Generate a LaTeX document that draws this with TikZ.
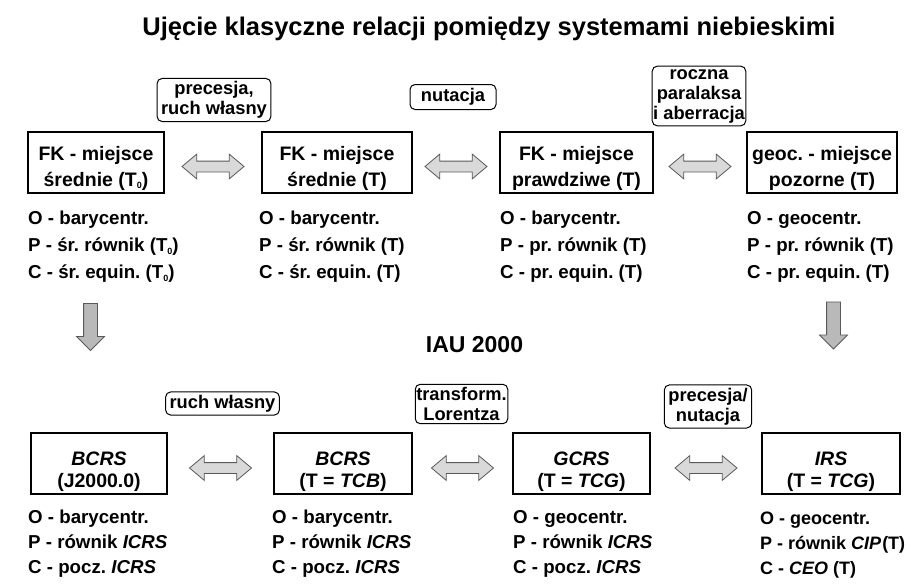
\documentclass[tikz,border=0pt]{standalone}
\usepackage{fontspec}
\setmainfont{Liberation Sans}
\usepackage{tikz}
\usetikzlibrary{calc,shapes.arrows}
\frenchspacing

\newcommand{\odstepA}{\rule{0pt}{25.5pt}}
\newcommand{\odstepB}{\rule{0pt}{31pt}}
\newcommand{\zero}{\raisebox{-2.5pt}{\fontsize{9}{9}\selectfont 0}}

\tikzset{
  ramka/.style={draw, line width=1.6pt, align=center, minimum height=61pt, inner sep=0pt,
    font=\fontsize{19.5}{26}\selectfont\bfseries},
  ramkaB/.style={ramka, font=\fontsize{19.5}{22}\selectfont\bfseries},
  opis/.style={draw, rounded corners=5pt, line width=1pt, align=center, inner xsep=4pt, inner ysep=3pt,
    font=\fontsize{18.3}{20}\selectfont\bfseries},
  lista/.style={anchor=north west, inner sep=0pt, align=left, font=\fontsize{18.7}{27}\selectfont\bfseries},
  listaB/.style={lista, font=\fontsize{18.7}{25}\selectfont\bfseries},
  strzalka/.style={double arrow, draw=gray!70!black, fill=gray!30, line width=0.8pt, minimum height=62pt,
    double arrow head extend=7pt, double arrow tip angle=80, inner xsep=0pt, inner ysep=5pt},
  wdol/.style={single arrow, draw=gray!70!black, fill=gray!55, line width=0.8pt, minimum height=47pt,
    single arrow head extend=7pt, inner xsep=0pt, inner ysep=6.5pt, rotate=-90}
}

\begin{document}
\begin{tikzpicture}[x=1pt,y=-1pt]
\useasboundingbox (0,0) rectangle (910,586);
\node[font=\fontsize{25.5}{30}\selectfont\bfseries, anchor=base] (tytul) at (489,36) {Ujęcie klasyczne relacji pomiędzy systemami niebieskimi};

\node[ramka, minimum width=136pt] (fkA) at (96,162.5) {\odstepA FK - miejsce\\średnie (T\zero)};
\node[ramka, minimum width=150pt] (fkB) at (337,162.5) {\odstepA FK - miejsce\\średnie (T)};
\node[ramka, minimum width=153pt] (fkC) at (576.5,162.5) {\odstepA FK - miejsce\\prawdziwe (T)};
\node[ramka, minimum width=150pt] (geoc) at (822,162.5) {\odstepA geoc. - miejsce\\pozorne (T)};

\node[strzalka] (sAB) at ($(fkA.east)!0.5!(fkB.west)+(0,4)$) {};
\node[strzalka] (sBC) at ($(fkB.east)!0.5!(fkC.west)+(0,4)$) {};
\node[strzalka] (sCD) at ($(fkC.east)!0.5!(geoc.west)+(0,4)$) {};

\node[opis] (precesja) at (214,100) {precesja,\\ruch własny};
\node[opis, minimum width=86pt, minimum height=25pt] (nutacja) at (453,97) {nutacja};
\node[opis, inner xsep=1pt] (roczna) at (699,96) {roczna\\paralaksa\\i aberracja};

\node[lista] (opA) at (28,211) {O - barycentr.\\P - śr. równik (T\zero)\\C - śr. equin. (T\zero)};
\node[lista] (opB) at (259,211) {O - barycentr.\\P - śr. równik (T)\\C - śr. equin. (T)};
\node[lista] (opC) at (500,211) {O - barycentr.\\P - pr. równik (T)\\C - pr. equin. (T)};
\node[lista] (opD) at (747,211) {O - geocentr.\\P - pr. równik (T)\\C - pr. equin. (T)};

\node[wdol] (dolA) at (90.5,323.5) {};
\node[wdol] (dolB) at (833.5,322) {};
\node[font=\fontsize{23}{28}\selectfont\bfseries, anchor=base] (iau) at (474.5,352) {IAU 2000};

\node[ramkaB, minimum width=136pt] (bcrsA) at (99,463.5) {\odstepB\textit{BCRS}\\(J2000.0)};
\node[ramkaB, minimum width=138pt] (bcrsB) at (343,463.5) {\odstepB\textit{BCRS}\\(T = \textit{TCB})};
\node[ramkaB, minimum width=137pt] (gcrs) at (581.5,463.5) {\odstepB\textit{GCRS}\\(T = \textit{TCG})};
\node[ramkaB, minimum width=138pt] (irs) at (831,463.5) {\odstepB\textit{IRS}\\(T = \textit{TCG})};

\node[strzalka] (sEF) at ($(bcrsA.east)!0.5!(bcrsB.west)+(0,4.5)$) {};
\node[strzalka] (sFG) at ($(bcrsB.east)!0.5!(gcrs.west)+(0,4.5)$) {};
\node[strzalka] (sGH) at ($(gcrs.east)!0.5!(irs.west)+(0,4.5)$) {};

\node[opis] (ruch) at (222.5,403.5) {ruch własny};
\node[opis, inner xsep=1pt] (lorentz) at (461.5,404) {transform.\\Lorentza};
\node[opis] (precnut) at (708,406.5) {precesja/\\nutacja};

\node[listaB] (opE) at (28,510) {O - barycentr.\\P - równik \textit{ICRS}\\C - pocz. \textit{ICRS}};
\node[listaB] (opF) at (272,510) {O - barycentr.\\P - równik \textit{ICRS}\\C - pocz. \textit{ICRS}};
\node[listaB] (opG) at (513,510) {O - geocentr.\\P - równik \textit{ICRS}\\C - pocz. \textit{ICRS}};
\node[listaB, font=\fontsize{18}{25}\selectfont\bfseries] (opH) at (760,511.5) {O - geocentr.\\P - równik \textit{CIP}\kern1pt(T)\\C - \textit{CEO} (T)};
\end{tikzpicture}
\end{document}
